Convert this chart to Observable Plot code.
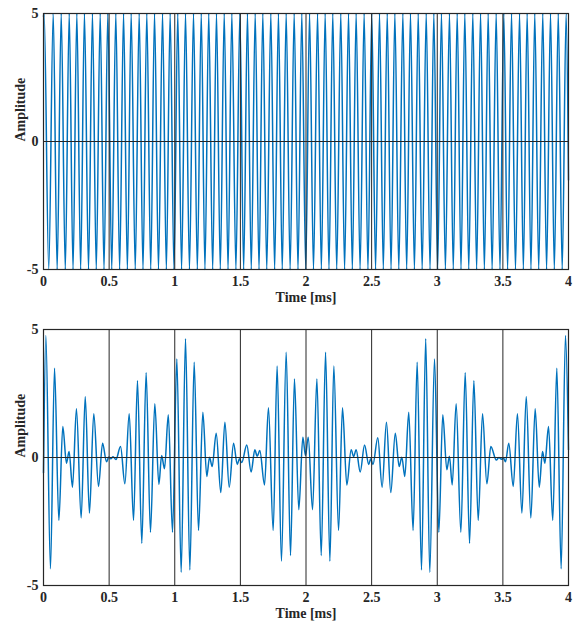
<!DOCTYPE html>
<html>
<head>
<meta charset="utf-8">
<script src="https://cdn.jsdelivr.net/npm/d3@7"></script>
<script src="https://cdn.jsdelivr.net/npm/@observablehq/plot@0.6"></script>
<style>
  html, body { margin: 0; padding: 0; background: #fff; }
  #chart svg { display: block; }
</style>
</head>
<body>
<div id="chart"></div>
<script>
// ---------- data ----------
const xTicks = [0, 0.5, 1, 1.5, 2, 2.5, 3, 3.5, 4];
const yTicks = [-5, 0, 5];
const xLabel = "Time [ms]";
const yLabel = "Amplitude";

// Top panel: times (ms) of the crests (+5) and troughs (-5)
const topCrestT = [0.005,0.074,0.135,0.196,0.254,0.312,0.373,0.432,0.490,0.551,0.610,0.668,0.729,0.787,0.846,0.907,0.965,
  1.023,1.082,1.143,1.202,1.259,1.318,1.377,1.435,1.496,1.554,1.613,1.671,1.732,1.790,1.849,1.910,1.968,
  2.027,2.088,2.146,2.204,2.265,2.324,2.382,2.443,2.501,2.560,2.619,2.677,2.738,2.796,2.855,2.916,2.974,
  3.032,3.093,3.152,3.210,3.271,3.330,3.388,3.449,3.507,3.566,3.627,3.685,3.743,3.804,3.863,3.922,3.982];
const topTroughT = [0.040,0.104,0.166,0.225,0.283,0.343,0.402,0.461,0.520,0.580,0.639,0.699,0.758,0.817,0.876,0.936,0.994,
  1.052,1.112,1.172,1.230,1.289,1.347,1.406,1.466,1.525,1.583,1.642,1.701,1.761,1.819,1.879,1.939,1.998,
  2.057,2.117,2.175,2.234,2.294,2.353,2.412,2.472,2.530,2.589,2.648,2.707,2.767,2.826,2.885,2.945,
  3.003,3.062,3.122,3.181,3.240,3.300,3.359,3.418,3.478,3.536,3.596,3.656,3.714,3.773,3.833,3.892,3.952];
const topCrestV = 5, topTroughV = -5;
const topEnds = [{t: 0, v: 4.9}, {t: 4, v: -1.5}];

// Bottom panel: extrema of the multi-tone signal (time ms, amplitude)
const botT = [0.000,0.018,0.053,0.084,0.117,0.147,0.175,0.195,0.221,0.251,0.287,0.318,0.350,0.383,0.419,0.450,0.480,0.497,0.513,0.530,0.552,
  0.587,0.620,0.653,0.686,0.716,0.749,0.782,0.815,0.848,0.879,0.900,0.922,0.951,0.983,
  1.016,1.049,1.082,1.115,1.148,1.181,1.214,1.244,1.265,1.285,1.316,1.351,1.382,1.415,1.448,1.476,1.493,1.510,
  1.549,1.582,1.610,1.628,1.648,1.684,1.714,1.750,1.780,1.813,1.849,1.882,1.912,1.945,1.976,1.996,
  2.017,2.050,2.083,2.116,2.149,2.182,2.212,2.248,2.278,2.311,2.344,2.363,2.382,2.413,2.446,2.478,2.493,2.510,
  2.547,2.580,2.613,2.646,2.680,2.710,2.730,2.753,2.783,2.816,2.847,2.880,2.912,2.943,2.979,
  3.012,3.042,3.073,3.093,3.114,3.144,3.180,3.213,3.246,3.279,3.312,3.345,3.378,3.408,3.450,3.470,3.490,3.505,3.520,
  3.545,3.579,3.611,3.645,3.678,3.713,3.746,3.777,3.802,3.820,3.848,3.880,3.911,3.944,3.977,4.000];
const botV = [-0.6,4.77,-4.35,3.49,-2.46,1.21,-0.22,0.23,-1.16,1.90,-2.36,2.38,-2.17,1.71,-1.13,0.56,-0.17,0.02,-0.05,0.03,-0.08,
  0.43,-1.03,1.71,-2.46,3.00,-3.35,3.31,-2.92,2.10,-1.05,0.08,-0.44,1.67,-2.92,
  3.85,-4.48,4.64,-4.39,3.72,-2.85,1.77,-0.74,0.01,-0.35,0.95,-1.37,1.38,-1.16,0.56,-0.27,-0.05,-0.20,
  0.49,-0.57,0.30,0.05,0.27,-1.07,1.94,-2.85,3.57,-4.05,4.11,-3.83,3.07,-2.04,0.79,0.08,
  0.79,-2.04,3.07,-3.83,4.11,-4.05,3.57,-2.85,1.94,-1.07,0.30,0.04,0.30,-0.57,0.49,-0.27,-0.05,-0.27,
  0.77,-1.16,1.38,-1.37,0.95,-0.35,0.01,-0.74,1.77,-2.85,3.72,-4.39,4.64,-4.48,3.85,
  -2.92,1.67,-0.48,0.05,-1.07,2.10,-2.92,3.31,-3.35,3.00,-2.46,1.71,-1.03,0.43,-0.10,0.00,-0.07,-0.02,-0.17,
  0.56,-1.13,1.71,-2.17,2.38,-2.36,1.90,-1.16,0.23,-0.22,1.21,-2.46,3.49,-4.35,4.77,0.3];

// ---------- build tables ----------
const topData = [
  ...topEnds,
  ...topCrestT.map(t => ({t, v: topCrestV})),
  ...topTroughT.map(t => ({t, v: topTroughV}))
].sort((a, b) => a.t - b.t);
const botData = botT.map((t, i) => ({t, v: botV[i]}));

const ink = "#262626";
const blue = "#0072BD";
const font = "'Liberation Serif', 'Times New Roman', serif";

function panel(data, mTop, mBottom) {
  return Plot.plot({
    width: 573,
    height: 311,
    marginLeft: 43,
    marginRight: 5,
    marginTop: mTop,
    marginBottom: mBottom,
    style: {fontFamily: font, fontWeight: "bold", fontSize: "14px", color: ink, background: "#fff"},
    x: {domain: [0, 4]},
    y: {domain: [-5, 5]},
    marks: [
      Plot.line(data, {x: "t", y: "v", stroke: blue, strokeWidth: 1.5, curve: "monotone-x"}),
      Plot.ruleX(xTicks, {stroke: ink, strokeWidth: 1}),
      Plot.ruleY([0], {stroke: ink, strokeWidth: 1}),
      Plot.frame({stroke: ink, strokeWidth: 1.2}),
      Plot.axisX({ticks: xTicks, tickSize: 0, tickPadding: 7, tickFormat: d => String(d), label: null,
        fontFamily: font, fontWeight: "bold", fontSize: 14}),
      Plot.axisY({ticks: yTicks, tickSize: 0, tickPadding: 5, tickFormat: d => String(d), label: null,
        fontFamily: font, fontWeight: "bold", fontSize: 14}),
      Plot.text([xLabel], {frameAnchor: "bottom", dy: 23, lineAnchor: "top", text: d => d,
        fontFamily: font, fontWeight: "bold", fontSize: 14, fill: ink}),
      Plot.text([yLabel], {frameAnchor: "left", dx: -23, rotate: -90, text: d => d,
        fontFamily: font, fontWeight: "bold", fontSize: 14, fill: ink})
    ]
  });
}

const el = document.getElementById("chart");
el.append(panel(topData, 13, 42));
el.append(panel(botData, 18, 37));
</script>
</body>
</html>
